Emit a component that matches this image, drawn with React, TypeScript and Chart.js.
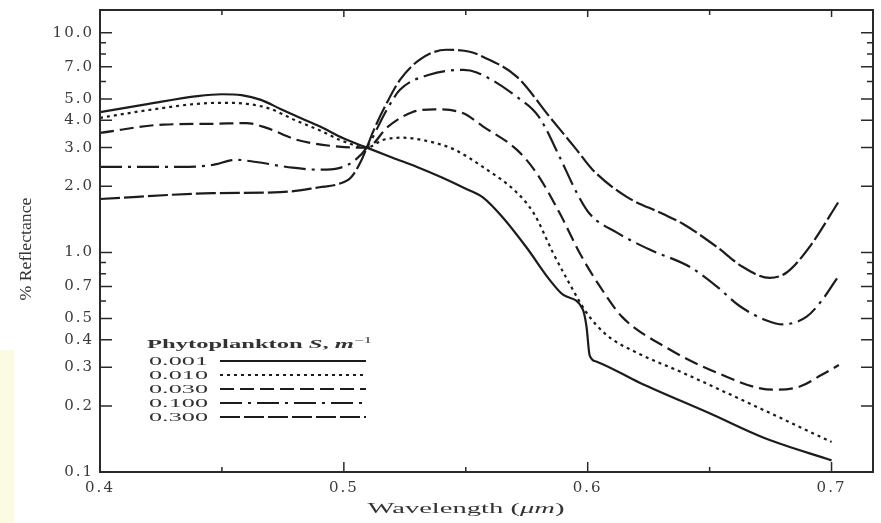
import React, { useEffect, useRef } from "react";
import { Chart, registerables } from "chart.js";

Chart.register(...registerables);

// ---------- data (wavelength in µm, % reflectance) ----------
const seriesLabels = ["0.001", "0.010", "0.030", "0.100", "0.300"];

const wl001 = [0.4, 0.42, 0.44, 0.45, 0.458, 0.466, 0.474, 0.482, 0.49, 0.5, 0.5094, 0.52, 0.53, 0.54, 0.55, 0.557, 0.565, 0.575, 0.5844, 0.59, 0.598, 0.5995, 0.6008, 0.6037, 0.6213, 0.65, 0.673, 0.7];
const r001 = [4.35, 4.75, 5.15, 5.25, 5.2, 4.95, 4.5, 4.1, 3.75, 3.3, 3.0, 2.7, 2.45, 2.2, 1.95, 1.78, 1.45, 1.05, 0.75, 0.64, 0.55, 0.46, 0.34, 0.318, 0.255, 0.185, 0.142, 0.113];

const wl010 = [0.4, 0.42, 0.44, 0.45, 0.46, 0.47, 0.48, 0.49, 0.5, 0.5094, 0.516, 0.524, 0.535, 0.545, 0.557, 0.571, 0.578, 0.5857, 0.5914, 0.5996, 0.6078, 0.62, 0.639, 0.666, 0.7];
const r010 = [4.1, 4.45, 4.75, 4.8, 4.75, 4.5, 4.0, 3.6, 3.2, 3.0, 3.25, 3.33, 3.2, 2.95, 2.45, 1.87, 1.5, 1.0, 0.76, 0.53, 0.42, 0.35, 0.283, 0.206, 0.137];

const wl030 = [0.4, 0.426, 0.446, 0.46, 0.468, 0.481, 0.498, 0.5094, 0.518, 0.528, 0.537, 0.549, 0.557, 0.571, 0.579, 0.5885, 0.597, 0.605, 0.614, 0.632, 0.653, 0.676, 0.687, 0.696, 0.703];
const r030 = [3.5, 3.82, 3.85, 3.88, 3.7, 3.25, 3.03, 3.0, 3.73, 4.35, 4.48, 4.3, 3.75, 2.93, 2.3, 1.51, 0.98, 0.7, 0.51, 0.37, 0.283, 0.237, 0.245, 0.277, 0.307];

const wl100 = [0.4, 0.433, 0.446, 0.456, 0.464, 0.479, 0.49, 0.498, 0.504, 0.5094, 0.5176, 0.523, 0.535, 0.549, 0.5545, 0.571, 0.58, 0.5885, 0.5955, 0.6008, 0.612, 0.6254, 0.6418, 0.6529, 0.6623, 0.6734, 0.68, 0.6898, 0.6963, 0.7025];
const r100 = [2.45, 2.45, 2.5, 2.64, 2.58, 2.43, 2.38, 2.42, 2.6, 3.0, 4.46, 5.5, 6.44, 6.78, 6.6, 5.1, 4.14, 2.72, 1.87, 1.5, 1.23, 1.03, 0.86, 0.7, 0.57, 0.49, 0.47, 0.51, 0.61, 0.77];

const wl300 = [0.4, 0.446, 0.474, 0.49, 0.498, 0.503, 0.507, 0.5094, 0.512, 0.5176, 0.523, 0.531, 0.542, 0.5516, 0.557, 0.571, 0.5844, 0.5955, 0.602, 0.616, 0.6307, 0.639, 0.6529, 0.6635, 0.6746, 0.6816, 0.691, 0.7033];
const r300 = [1.75, 1.86, 1.88, 1.98, 2.05, 2.2, 2.6, 3.0, 3.55, 4.79, 6.1, 7.53, 8.37, 8.2, 7.78, 6.3, 4.14, 2.93, 2.38, 1.79, 1.5, 1.35, 1.06, 0.86, 0.765, 0.81, 1.06, 1.73];

const seriesX = [wl001, wl010, wl030, wl100, wl300];
const seriesY = [r001, r010, r030, r100, r300];
const seriesDash = [[], [3, 4], [14, 6], [22, 6, 3, 6], [20, 4]];

const xTickValues = [0.4, 0.45, 0.5, 0.55, 0.6, 0.65, 0.7];
const xTickLabels = ["0.4", "", "0.5", "", "0.6", "", "0.7"];
const yTickValues = [0.1, 0.2, 0.3, 0.4, 0.5, 0.6, 0.7, 0.8, 0.9, 1, 2, 3, 4, 5, 6, 7, 8, 9, 10];
const yTickLabels = ["0.1", "0.2", "0.3", "0.4", "0.5", "", "0.7", "", "", "1.0", "2.0", "3.0", "4.0", "5.0", "", "7.0", "", "", "10.0"];

const xTitle = ["Wavelength (", "\u03BCm", ")"];
const yTitle = "% Reflectance";
const legendTitle = ["Phytoplankton ", "S", ", ", "m", "\u22121"];

const INK = "#1c1c1c";
const TEXT = "#333";
const SERIF = "'Liberation Serif', 'DejaVu Serif', serif";

function labelFor(values: number[], labels: string[], v: number) {
  for (let i = 0; i < values.length; i++) {
    if (Math.abs(values[i] - v) < 1e-9 * Math.max(1, v)) return labels[i];
  }
  return "";
}

type Run = { text: string; font: string; dy?: number };

function drawFitted(ctx: CanvasRenderingContext2D, runs: Run[], x: number, y: number, target: number, align: "left" | "center", sy = 1) {
  const widths = runs.map((r) => {
    ctx.font = r.font;
    return ctx.measureText(r.text).width;
  });
  const total = widths.reduce((a, b) => a + b, 0);
  const sx = target / total;
  ctx.save();
  ctx.translate(align === "center" ? x - target / 2 : x, y);
  ctx.scale(sx, sy);
  ctx.textAlign = "left";
  ctx.textBaseline = "alphabetic";
  let cx = 0;
  runs.forEach((r, i) => {
    ctx.font = r.font;
    ctx.fillText(r.text, cx, r.dy || 0);
    cx += widths[i];
  });
  ctx.restore();
}

const decorPlugin = {
  id: "decor",
  beforeDraw(chart: any) {
    const ctx = chart.ctx as CanvasRenderingContext2D;
    ctx.save();
    ctx.fillStyle = "#ffffff";
    ctx.fillRect(0, 0, chart.width, chart.height);
    ctx.fillStyle = "#fbfbe3";
    ctx.fillRect(0, 350, 14, chart.height - 350);
    ctx.restore();
    (ctx as any).letterSpacing = "2px";
  },
  afterDraw(chart: any) {
    const ctx = chart.ctx as CanvasRenderingContext2D;
    const ca = chart.chartArea;
    const xs = chart.scales.x;
    const ys = chart.scales.y;
    ctx.save();
    (ctx as any).letterSpacing = "0px";
    ctx.strokeStyle = "#2a2a2a";
    ctx.lineWidth = 2;
    ctx.setLineDash([]);
    ctx.strokeRect(ca.left, ca.top, ca.right - ca.left, ca.bottom - ca.top);

    ctx.lineWidth = 1.5;
    ctx.beginPath();
    yTickValues.forEach((v, i) => {
      const p = ys.getPixelForValue(v);
      const len = yTickLabels[i] ? 12 : 6;
      ctx.moveTo(ca.left, p);
      ctx.lineTo(ca.left + len, p);
      ctx.moveTo(ca.right, p);
      ctx.lineTo(ca.right - len, p);
    });
    xTickValues.forEach((v, i) => {
      const p = xs.getPixelForValue(v);
      const lenB = xTickLabels[i] ? 10 : 5;
      const lenT = xTickLabels[i] ? 7 : 5;
      ctx.moveTo(p, ca.bottom);
      ctx.lineTo(p, ca.bottom - lenB);
      ctx.moveTo(p, ca.top);
      ctx.lineTo(p, ca.top + lenT);
    });
    ctx.stroke();

    ctx.fillStyle = TEXT;
    // x-axis title
    drawFitted(
      ctx,
      [
        { text: xTitle[0], font: `15px ${SERIF}` },
        { text: xTitle[1], font: `italic 15px ${SERIF}` },
        { text: xTitle[2], font: `15px ${SERIF}` },
      ],
      466,
      513,
      197,
      "center"
    );
    // y-axis title (rotated)
    ctx.save();
    ctx.translate(31, 249);
    ctx.rotate(-Math.PI / 2);
    drawFitted(ctx, [{ text: yTitle, font: `12px ${SERIF}` }], 0, 0, 103, "center", 1.35);
    ctx.restore();

    // legend
    drawFitted(
      ctx,
      [
        { text: legendTitle[0], font: `bold 13px ${SERIF}` },
        { text: legendTitle[1], font: `italic bold 13px ${SERIF}` },
        { text: legendTitle[2], font: `bold 13px ${SERIF}` },
        { text: legendTitle[3], font: `italic bold 13px ${SERIF}` },
        { text: legendTitle[4], font: `9px ${SERIF}`, dy: -5 },
      ],
      147,
      348,
      225,
      "left"
    );
    const rowY = [361, 375, 389, 403, 417];
    seriesLabels.forEach((lab, i) => {
      ctx.fillStyle = TEXT;
      drawFitted(ctx, [{ text: lab, font: `12px ${SERIF}` }], 149, rowY[i] + 4, 59, "left");
      ctx.strokeStyle = INK;
      ctx.lineWidth = 2.2;
      ctx.setLineDash(seriesDash[i]);
      ctx.beginPath();
      ctx.moveTo(220, rowY[i]);
      ctx.lineTo(366, rowY[i]);
      ctx.stroke();
    });
    ctx.restore();
  },
};

export default function App() {
  const ref = useRef<HTMLCanvasElement>(null);
  useEffect(() => {
    const canvas = ref.current;
    if (!canvas) return;
    const datasets = seriesLabels.map((lab, i) => ({
      label: lab,
      data: seriesX[i].map((x, j) => ({ x, y: seriesY[i][j] })),
      borderColor: INK,
      backgroundColor: INK,
      borderWidth: 2.2,
      borderDash: seriesDash[i],
      pointRadius: 0,
      fill: false,
      cubicInterpolationMode: "monotone" as const,
    }));
    const chart = new Chart(canvas, {
      type: "line",
      data: { datasets },
      plugins: [decorPlugin],
      options: {
        animation: false,
        responsive: false,
        layout: { padding: { left: 0, right: 8, top: 10, bottom: 0 } },
        plugins: { legend: { display: false }, tooltip: { enabled: false } },
        scales: {
          x: {
            type: "linear",
            min: 0.4,
            max: 0.717,
            afterBuildTicks: (s: any) => {
              s.ticks = xTickValues.map((v) => ({ value: v }));
            },
            afterFit: (s: any) => {
              s.height = 51;
              s.paddingLeft = 0;
              s.paddingRight = 0;
            },
            grid: { display: false, drawTicks: false },
            border: { display: false },
            ticks: {
              autoSkip: false,
              maxRotation: 0,
              minRotation: 0,
              padding: 7,
              color: "#3a3a3a",
              font: { family: "DejaVu Serif", size: 15 },
              callback: (v: any) => labelFor(xTickValues, xTickLabels, Number(v)),
            },
          },
          y: {
            type: "logarithmic",
            min: 0.1,
            max: 12.7,
            afterBuildTicks: (s: any) => {
              s.ticks = yTickValues.map((v) => ({ value: v }));
            },
            afterFit: (s: any) => {
              s.width = 100;
              s.paddingTop = 0;
              s.paddingBottom = 0;
            },
            grid: { display: false, drawTicks: false },
            border: { display: false },
            ticks: {
              autoSkip: false,
              padding: 6,
              color: "#3a3a3a",
              font: { family: "DejaVu Serif", size: 15 },
              callback: (v: any) => labelFor(yTickValues, yTickLabels, Number(v)),
            },
          },
        },
      },
    });
    return () => chart.destroy();
  }, []);
  return (
    <div style={{ position: "absolute", left: 0, top: 0, width: 881, height: 523, background: "#fff" }}>
      <canvas ref={ref} width={881} height={523} style={{ display: "block", width: 881, height: 523 }} />
    </div>
  );
}
